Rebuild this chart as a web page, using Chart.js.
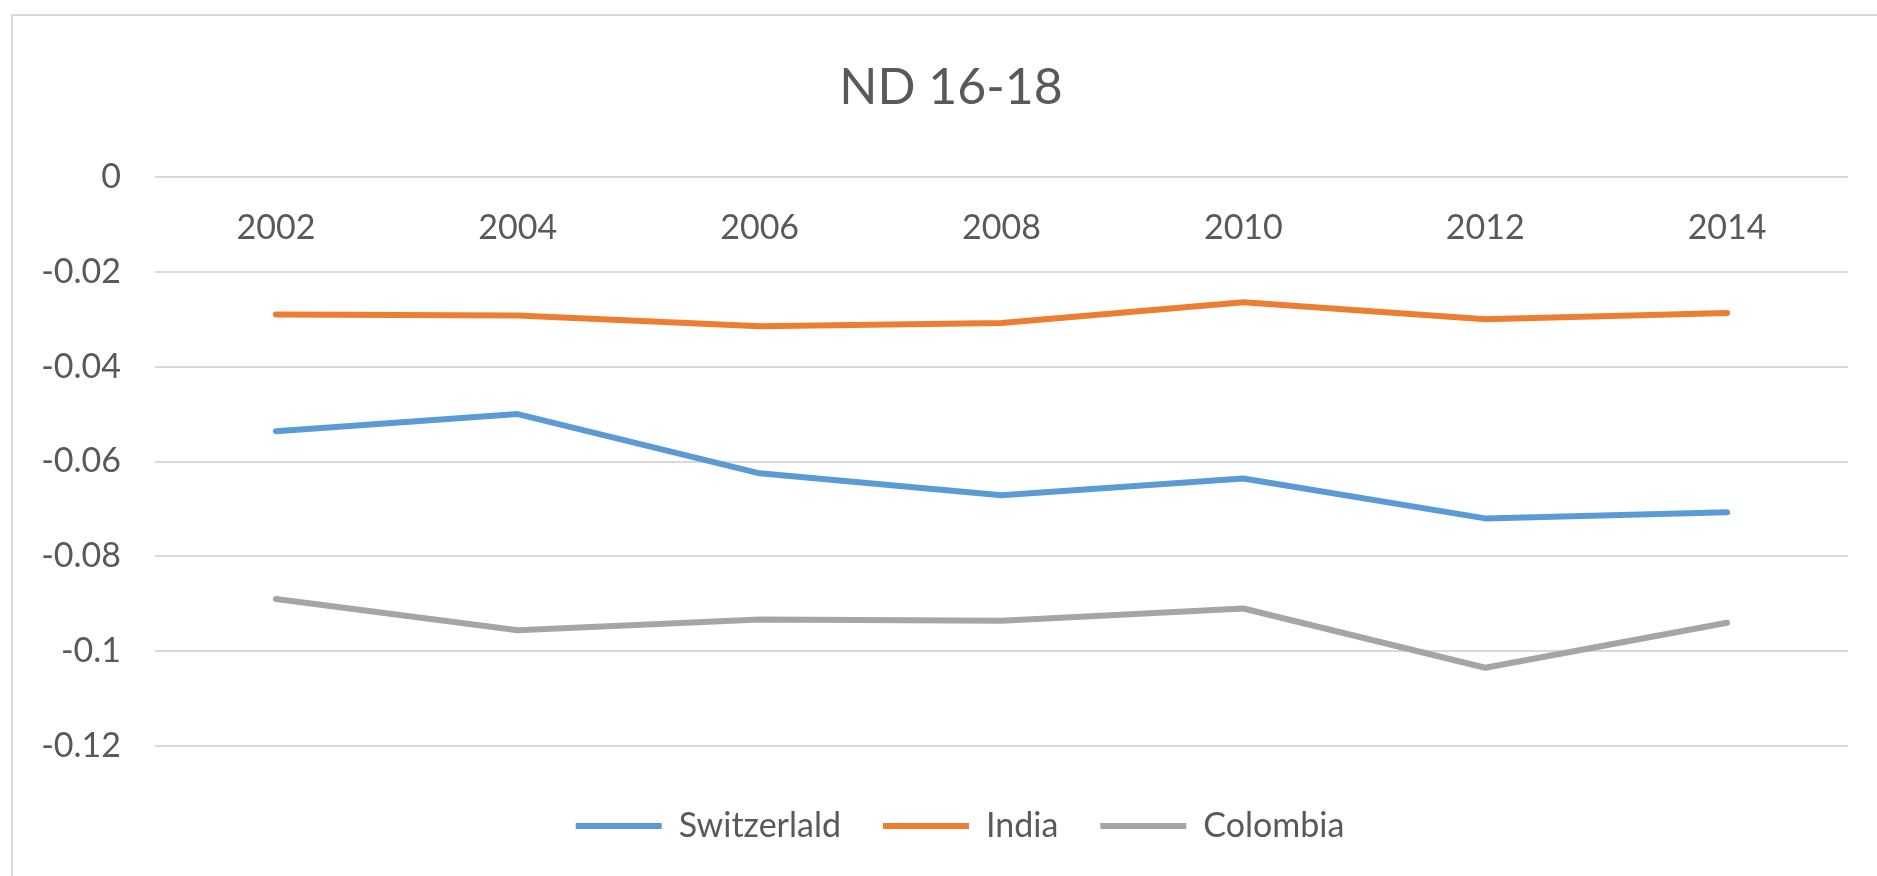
<!DOCTYPE html>
<html>
<head>
<meta charset="utf-8">
<title>ND 16-18</title>
<script src="https://cdn.jsdelivr.net/npm/chart.js@4"></script>
<style>
    html, body { margin: 0; padding: 0; background: #fff; overflow: hidden; }
    #marco {
        position: absolute;
        left: 11px;
        top: 14px;
        width: 1900px;
        height: 900px;
        border-left: 2px solid #d9d9d9;
        border-top: 2px solid #d9d9d9;
    }
    #grafica { position: absolute; left: 0; top: 0; }
</style>
</head>
<body>
<div id="marco"></div>
<canvas id="grafica" width="1877" height="876"></canvas>
<script>
// Años y valores por país
const anios = ['2002', '2004', '2006', '2008', '2010', '2012', '2014'];
const switzerland = [-0.0536, -0.0500, -0.0625, -0.0671, -0.0636, -0.0720, -0.0707];
const india = [-0.0290, -0.0292, -0.0315, -0.0308, -0.0264, -0.0300, -0.0287];
const colombia = [-0.0890, -0.0956, -0.0933, -0.0936, -0.0910, -0.1035, -0.0940];

const colorTexto = '#595959';
const fuente = 'Lato, "Open Sans", sans-serif';

function serie(nombre, datos, color) {
    return {
        label: nombre,
        data: datos,
        borderColor: color,
        backgroundColor: color,
        borderWidth: 6,
        borderJoinStyle: 'round',
        borderCapStyle: 'round',
        pointRadius: 0,
        pointHoverRadius: 0,
        tension: 0,
        fill: false
    };
}

// Centra título y leyenda un poco a la derecha, como en Excel
const desplazarCajas = {
    id: 'desplazarCajas',
    afterLayout(chart) {
        chart.titleBlock.left += 17;
        chart.titleBlock.right += 17;
        chart.legend.left += 26;
        chart.legend.right += 26;
    }
};

const ctx = document.getElementById('grafica').getContext('2d');

window.graficaND = new Chart(ctx, {
    type: 'line',
    data: {
        labels: anios,
        datasets: [
            serie('Switzerlald', switzerland, '#5b9bd5'),
            serie('India', india, '#ed7d31'),
            serie('Colombia', colombia, '#a5a5a5')
        ]
    },
    options: {
        responsive: false,
        animation: false,
        layout: {
            padding: { top: 28, left: 20, right: 29, bottom: 23 }
        },
        scales: {
            x: {
                type: 'category',
                offset: true,
                position: { y: 0 }, // eje de categorías sobre el cero
                grid: { display: false, drawTicks: false },
                border: { display: false },
                ticks: {
                    color: colorTexto,
                    padding: 31,
                    maxRotation: 0,
                    font: { family: fuente, size: 34 }
                }
            },
            y: {
                min: -0.12,
                max: 0,
                grid: { color: '#d9d9d9', lineWidth: 2, drawTicks: false },
                border: { display: false },
                ticks: {
                    stepSize: 0.02,
                    color: colorTexto,
                    padding: 34,
                    font: { family: fuente, size: 34 },
                    callback: function (value) {
                        return String(+Number(value).toFixed(2));
                    }
                },
                afterFit: function (scale) {
                    scale.width = 135;
                }
            }
        },
        plugins: {
            title: {
                display: true,
                text: 'ND 16-18',
                color: colorTexto,
                font: { family: fuente, size: 50, weight: 'normal' },
                padding: { top: 30, bottom: 59 }
            },
            legend: {
                position: 'bottom',
                title: {
                    display: true,
                    text: '',
                    font: { size: 10 },
                    padding: { top: 4, bottom: 5 }
                },
                labels: {
                    boxWidth: 86,
                    boxHeight: 6,
                    padding: 42,
                    color: colorTexto,
                    font: { family: fuente, size: 34 },
                    generateLabels: function (chart) {
                        const items = Chart.defaults.plugins.legend.labels.generateLabels(chart);
                        items.forEach(function (it) {
                            it.lineWidth = 0;
                        });
                        return items;
                    }
                }
            },
            tooltip: { enabled: false }
        }
    },
    plugins: [desplazarCajas]
});
</script>
</body>
</html>
